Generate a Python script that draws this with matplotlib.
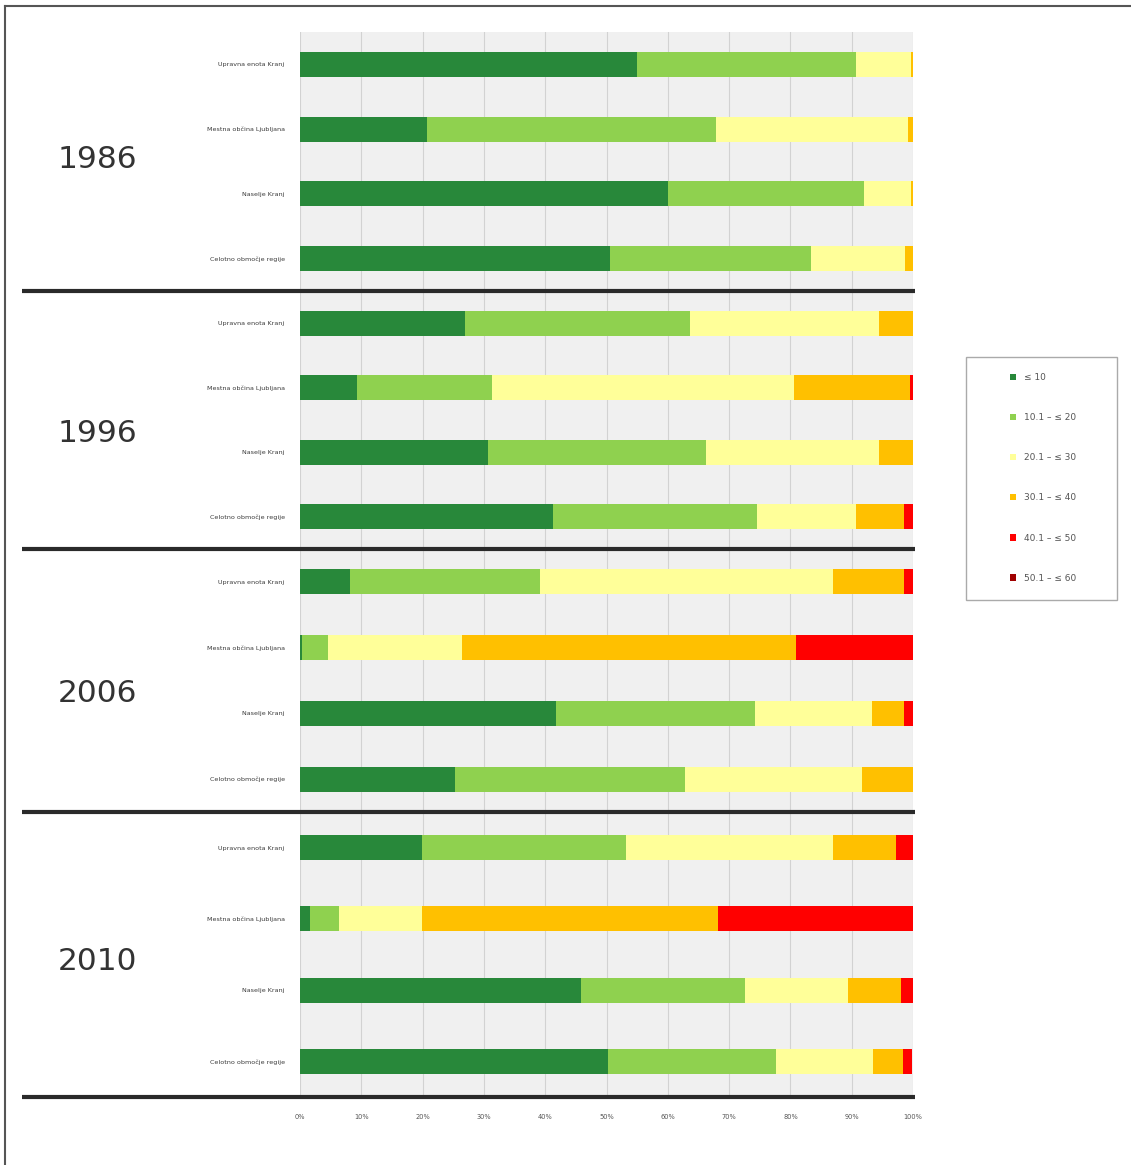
import matplotlib
matplotlib.use("Agg")
import matplotlib.pyplot as plt
from matplotlib.lines import Line2D
from matplotlib.patches import Patch, Rectangle
import numpy as np

# Periods and areas
years = ["1986", "1996", "2006", "2010"]
areas = ["Upravna enota Kranj", "Mestna občina Ljubljana", "Naselje Kranj", "Celotno območje regije"]

# Share classes (legend)
classes = ["≤ 10", "10.1 – ≤ 20", "20.1 – ≤ 30", "30.1 – ≤ 40", "40.1 – ≤ 50", "50.1 – ≤ 60"]

# Percentage share per class; rows follow `areas`, columns follow `classes`
share_1986 = [
    [55.0, 35.7, 9.0, 0.3, 0.0, 0.0],
    [20.7, 47.2, 31.3, 0.8, 0.0, 0.0],
    [60.0, 32.0, 7.7, 0.3, 0.0, 0.0],
    [50.6, 32.8, 15.3, 1.3, 0.0, 0.0],
]
share_1996 = [
    [26.9, 36.7, 30.9, 5.5, 0.0, 0.0],
    [9.3, 22.0, 49.3, 18.9, 0.5, 0.0],
    [30.7, 35.5, 28.3, 5.5, 0.0, 0.0],
    [41.3, 33.3, 16.1, 7.8, 1.5, 0.0],
]
share_2006 = [
    [8.2, 31.0, 47.7, 11.6, 1.5, 0.0],
    [0.3, 4.3, 21.8, 54.5, 19.1, 0.0],
    [41.8, 32.4, 19.1, 5.2, 1.5, 0.0],
    [25.3, 37.5, 28.9, 8.3, 0.0, 0.0],
]
share_2010 = [
    [19.9, 33.3, 33.7, 10.3, 2.8, 0.0],
    [1.6, 4.8, 13.5, 48.3, 31.8, 0.0],
    [45.8, 26.8, 16.8, 8.6, 2.0, 0.0],
    [50.2, 27.4, 15.8, 5.0, 1.5, 0.0],
]
shares = [share_1986, share_1996, share_2006, share_2010]

colors = ["#28883a", "#8fd14f", "#ffff99", "#ffc000", "#ff0000", "#a00000"]

W, H = 1131, 1165
fig = plt.figure(figsize=(W / 100, H / 100), dpi=100)

left_px, right_px = 300, 913
top_px, bottom_px = 32, 1097
gs = fig.add_gridspec(
    4, 1,
    left=left_px / W, right=right_px / W,
    top=1 - top_px / H, bottom=1 - bottom_px / H,
    height_ratios=[259, 258, 263, 285], hspace=0,
)

year_label_y = [0.506, 0.446, 0.449, 0.477]
bar_px = 25
group_px = [259, 258, 263, 285]

axes = []
for g, (year, data) in enumerate(zip(years, shares)):
    ax = fig.add_subplot(gs[g])
    axes.append(ax)
    data = np.array(data)
    ypos = np.arange(len(areas))
    bar_h = bar_px / (group_px[g] / 4)
    lefts = np.zeros(len(areas))
    for k in range(len(classes)):
        ax.barh(ypos, data[:, k], left=lefts, height=bar_h,
                color=colors[k], edgecolor="none", zorder=3)
        lefts += data[:, k]
    ax.set_ylim(len(areas) - 0.5, -0.5)
    ax.set_xlim(0, 100)
    ax.set_facecolor("#f0f0f0")
    ax.set_yticks(ypos)
    ax.set_yticklabels(areas, fontsize=4.6, color="#3a3a3a")
    ax.tick_params(axis="y", length=0, pad=11)
    ax.set_xticks(np.arange(0, 101, 10))
    ax.grid(axis="x", color="#d2d2d2", linewidth=0.8, zorder=0)
    ax.tick_params(axis="x", length=0)
    for s in ax.spines.values():
        s.set_visible(False)
    if g < 3:
        ax.set_xticklabels([])
    else:
        ax.set_xticklabels([f"{v}%" for v in range(0, 101, 10)],
                           fontsize=4.8, color="#555555")
        ax.tick_params(axis="x", pad=12)
    ax.text(-0.331, year_label_y[g], year, transform=ax.transAxes,
            fontsize=22.5, color="#333333", ha="center", va="center")

# Thick separators below each period
for ax in axes:
    pos = ax.get_position()
    fig.add_artist(Line2D([22 / W, 915 / W], [pos.y0, pos.y0],
                          color="#2a2a2a", linewidth=3.0,
                          solid_capstyle="butt"))

# Outer frame (left and top edges)
fig.add_artist(Line2D([5 / W, 5 / W], [0, 1 - 6 / H], color="#555555", linewidth=1.5))
fig.add_artist(Line2D([5 / W, 1], [1 - 6 / H, 1 - 6 / H], color="#555555", linewidth=1.5))

# Legend with its own box
fig.add_artist(Rectangle((966 / W, 1 - 600 / H), (1117 - 966) / W, (600 - 357) / H,
                         transform=fig.transFigure, facecolor="white",
                         edgecolor="#aaaaaa", linewidth=1.0))
handles = [Patch(facecolor=c, edgecolor="none") for c in colors]
leg = fig.legend(handles, classes, loc="upper left",
                 bbox_to_anchor=(1010 / W, 1 - 373 / H),
                 fontsize=6.5, labelcolor="#555555",
                 handlelength=0.7, handleheight=0.7, handletextpad=0.8,
                 labelspacing=3.45, borderpad=0, borderaxespad=0,
                 frameon=False)

fig.savefig("out.png", dpi=100, facecolor="white")
